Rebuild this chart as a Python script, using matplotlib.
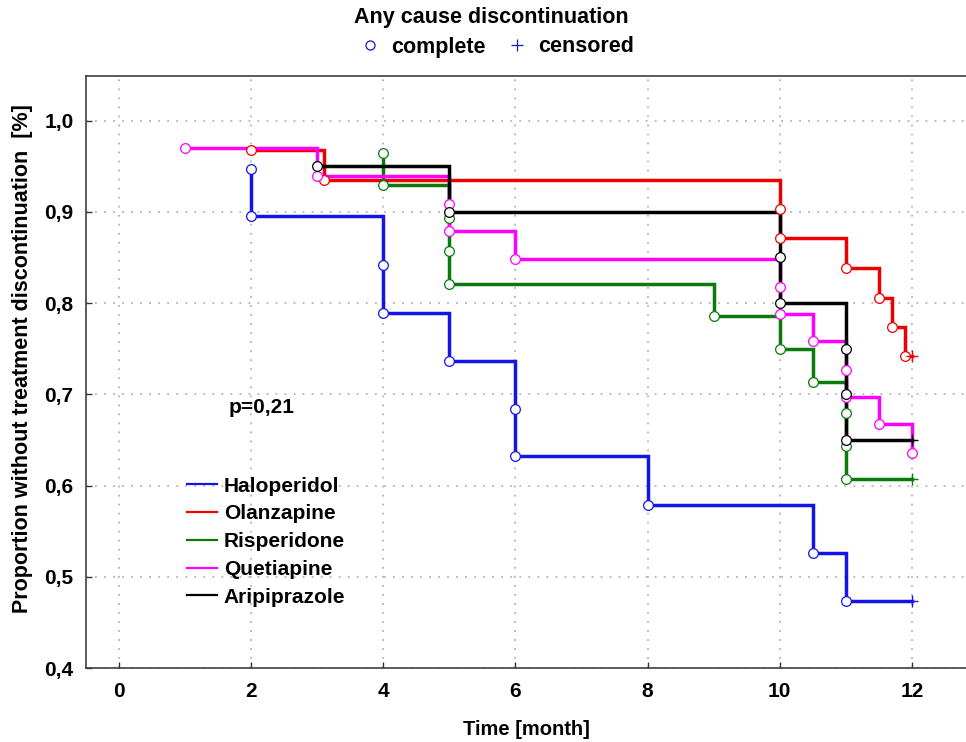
import matplotlib
matplotlib.use("Agg")
import matplotlib.pyplot as plt
from matplotlib.lines import Line2D
from matplotlib.ticker import FuncFormatter, MultipleLocator

plt.rcParams['font.family'] = ['Liberation Sans', 'DejaVu Sans']
plt.rcParams['font.weight'] = 'bold'

# Kaplan-Meier steps, one entry per event (time in months, proportion after the event)
drugs = ["Haloperidol", "Olanzapine", "Risperidone", "Quetiapine", "Aripiprazole"]
colors = ["#1414e6", "#ee0000", "#0a7a0a", "#ff00ff", "#000000"]

halo_t = [2, 2, 4, 4, 5, 6, 6, 8, 10.5, 11]
halo_s = [0.947, 0.895, 0.842, 0.789, 0.737, 0.684, 0.632, 0.579, 0.526, 0.474]
olan_t = [2, 3.1, 10, 10, 11, 11.5, 11.7, 11.9]
olan_s = [0.968, 0.935, 0.903, 0.871, 0.839, 0.806, 0.774, 0.742]
risp_t = [4, 4, 5, 5, 5, 9, 10, 10.5, 11, 11, 11]
risp_s = [0.964, 0.929, 0.893, 0.857, 0.821, 0.786, 0.750, 0.714, 0.679, 0.643, 0.607]
quet_t = [1, 3, 5, 5, 6, 10, 10, 10.5, 11, 11, 11.5, 12]
quet_s = [0.970, 0.939, 0.909, 0.879, 0.848, 0.818, 0.788, 0.758, 0.727, 0.697, 0.667, 0.636]
arip_t = [3, 5, 10, 10, 11, 11, 11]
arip_s = [0.95, 0.90, 0.85, 0.80, 0.75, 0.70, 0.65]

# censoring time per drug (None = last point is an event)
censor_t = [12, 12, 12, None, 12]

times = [halo_t, olan_t, risp_t, quet_t, arip_t]
survs = [halo_s, olan_s, risp_s, quet_s, arip_s]


def step_path(t, s, tc):
    xs, ys = [t[0]], [s[0]]
    for i in range(1, len(t)):
        xs += [t[i], t[i]]
        ys += [s[i - 1], s[i]]
    if tc is not None:
        xs.append(tc)
        ys.append(s[-1])
    return xs, ys


fig = plt.figure(figsize=(9.66, 7.42), dpi=100)
ax = fig.add_axes([0.089, 0.0997, 0.911, 0.798])

for name, col, t, s, tc in zip(drugs, colors, times, survs, censor_t):
    xs, ys = step_path(t, s, tc)
    ax.plot(xs, ys, color=col, lw=2.5, solid_joinstyle='miter', zorder=3)
    ax.plot(t, s, ls='none', marker='o', ms=7, mfc='white', mec=col, mew=0.9, zorder=4)
    if tc is not None:
        ax.plot([tc], [s[-1]], ls='none', marker='+', ms=8, color=col, mew=1.0, zorder=4)

ax.set_xlim(-0.5, 12.82)
ax.set_ylim(0.4, 1.049)
ax.xaxis.set_major_locator(MultipleLocator(2))
ax.yaxis.set_major_locator(MultipleLocator(0.1))
ax.yaxis.set_major_formatter(FuncFormatter(lambda v, p: f"{v:.1f}".replace('.', ',')))
ax.grid(True, color='#b4b4b4', linestyle=(0, (1, 4)), lw=1.3)
ax.set_axisbelow(True)
ax.tick_params(direction='in', length=4, width=1, color='#333333', labelsize=15)
ax.tick_params(axis='y', pad=9)
ax.tick_params(axis='x', pad=10)
for lab in ax.get_xticklabels() + ax.get_yticklabels():
    lab.set_fontweight('bold')
for sp in ['left', 'bottom', 'top']:
    ax.spines[sp].set_color('#404040')
    ax.spines[sp].set_linewidth(1.2)
ax.spines['right'].set_visible(False)

ax.set_xlabel("Time [month]", fontsize=14.5, fontweight='bold', labelpad=14)
ax.set_ylabel("Proportion without treatment discontinuation  [%]", fontsize=15.5,
              fontweight='bold')
ax.yaxis.set_label_coords(-0.060, 0.522)

ax.text(1.66, 0.686, "p=0,21", fontsize=15, fontweight='bold', ha='left', va='center')

handles = [Line2D([], [], color=c, lw=1.6) for c in colors]
ax.legend(handles, drugs, loc='upper left', bbox_to_anchor=(0.194, 0.3575),
          bbox_transform=fig.transFigure, frameon=False, borderpad=0, borderaxespad=0,
          handlelength=1.4, handletextpad=0.34, labelspacing=0.42,
          prop={'size': 15, 'weight': 'bold'})

fig.text(0.509, 1 - 17 / 742, "Any cause discontinuation", ha='center', va='center',
         fontsize=15.5, fontweight='bold')
top_handles = [Line2D([], [], ls='none', marker='o', ms=6.5, mfc='white', mec='#1414c8', mew=0.9),
               Line2D([], [], ls='none', marker='+', ms=9, color='#1414c8', mew=0.9)]
fig.legend(top_handles, ["complete", "censored"], ncol=2, loc='center',
           bbox_to_anchor=(0.514, 1 - 47 / 742), frameon=False, handlelength=1.0,
           handletextpad=0.5, columnspacing=0.94, prop={'size': 15.5, 'weight': 'bold'})

fig.savefig("out.png", dpi=100)
